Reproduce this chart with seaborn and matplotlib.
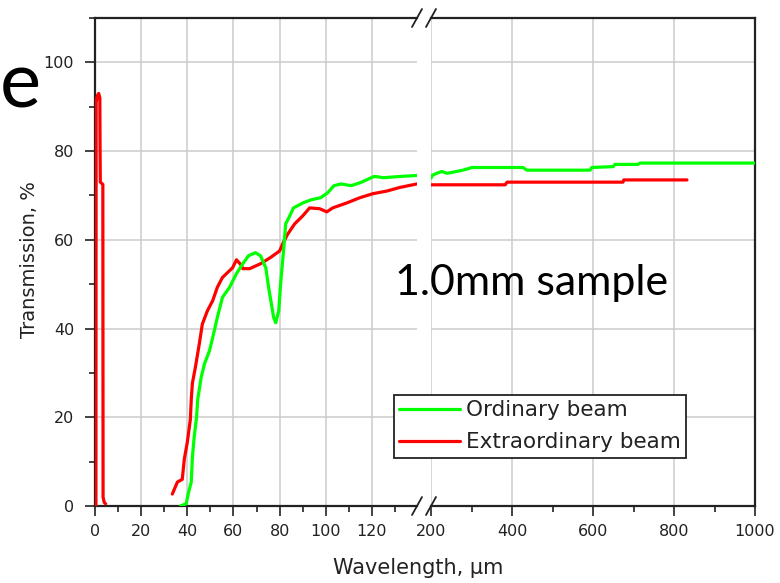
import numpy as np
import pandas as pd
import matplotlib.pyplot as plt
from matplotlib.lines import Line2D
from matplotlib.ticker import MultipleLocator
import seaborn as sns

# ── Data (wavelength um, transmission %) ─────────────────────────────────────
# narrow red peak close to 0 um
peak_x = [0.4, 0.5, 1.0, 1.6, 2.1, 2.2, 2.3, 3.4, 3.5, 4.0, 4.6]
peak_y = [0.0, 91.0, 92.5, 93.0, 92.0, 80.0, 73.0, 72.5, 2.0, 0.8, 0.5]

# left panel (0-140 um)
green_x = [37.0, 39.5, 40.5, 41.7, 42.2, 43.0, 44.0, 44.5, 46.0, 47.4, 49.6,
           51.0, 53.0, 55.2, 58.3, 61.3, 64.0, 66.5, 69.5, 71.7, 74.0, 75.2,
           77.4, 78.3, 79.6, 80.4, 81.7, 82.6, 84.0, 86.0, 90.0, 93.5, 97.8,
           100.8, 103.5, 106.5, 111.0, 115.0, 121.0, 125.0, 132.6, 139.5]
green_y = [0.0, 0.5, 3.0, 5.4, 11.0, 15.7, 20.0, 24.0, 29.0, 32.0, 35.0,
           38.0, 42.5, 47.0, 49.3, 52.4, 54.6, 56.4, 57.1, 56.4, 53.7, 49.3,
           42.5, 41.3, 44.0, 50.0, 57.6, 63.6, 65.0, 67.2, 68.3, 69.0, 69.5,
           70.6, 72.2, 72.6, 72.2, 72.9, 74.3, 74.0, 74.3, 74.5]

red_x = [33.5, 35.7, 37.8, 38.7, 40.0, 41.3, 41.7, 42.2, 43.5, 45.2, 46.5,
         48.7, 51.0, 53.0, 55.2, 57.4, 59.6, 61.3, 63.5, 64.0, 67.0, 71.7,
         76.0, 80.0, 81.3, 83.5, 86.5, 90.0, 93.0, 97.4, 100.4, 103.0, 109.0,
         114.8, 120.4, 126.5, 132.0, 139.5]
red_y = [2.7, 5.4, 6.0, 10.6, 14.4, 19.5, 24.0, 27.7, 31.3, 36.6, 41.0,
         44.0, 46.3, 49.3, 51.5, 52.6, 53.7, 55.5, 54.2, 53.5, 53.5, 54.6,
         56.0, 57.5, 59.1, 61.3, 63.6, 65.4, 67.2, 67.0, 66.3, 67.2, 68.3,
         69.5, 70.4, 71.0, 71.8, 72.6]

# right panel (200-1000 um)
green_far_x = [200, 203, 214, 227, 239, 252, 279, 301, 321, 370, 427, 437,
               526, 593, 597, 650, 654, 711, 716, 1000]
green_far_y = [73.9, 74.5, 75.0, 75.4, 75.0, 75.2, 75.7, 76.3, 76.3, 76.3,
               76.3, 75.7, 75.7, 75.7, 76.3, 76.5, 77.0, 77.0, 77.3, 77.3]

red_far_x = [200, 383, 388, 674, 676, 832]
red_far_y = [72.4, 72.4, 73.0, 73.0, 73.5, 73.5]

ORD, EXT = "Ordinary beam", "Extraordinary beam"
PALETTE = {ORD: "#00ff00", EXT: "#ff0000"}


def segment(x, y, beam, seg):
    return pd.DataFrame({"wl": x, "T": y, "beam": beam, "seg": seg})


left_df = pd.concat([segment(peak_x, peak_y, EXT, "peak"),
                     segment(red_x, red_y, EXT, "red"),
                     segment(green_x, green_y, ORD, "green")], ignore_index=True)
right_df = pd.concat([segment(red_far_x, red_far_y, EXT, "red"),
                      segment(green_far_x, green_far_y, ORD, "green")], ignore_index=True)

# ── Figure ───────────────────────────────────────────────────────────────────
sns.set_style("white")
plt.rcParams["font.family"] = ["DejaVu Sans"]

W, H = 780, 583
fig = plt.figure(figsize=(W / 100, H / 100), dpi=100)

def px_box(x0, y0, x1, y1):
    return [x0 / W, 1 - y1 / H, (x1 - x0) / W, (y1 - y0) / H]

ax1 = fig.add_axes(px_box(95, 18, 417, 506))
ax2 = fig.add_axes(px_box(431, 18, 755, 506), sharey=ax1)

for ax, df in [(ax1, left_df), (ax2, right_df)]:
    sns.lineplot(data=df, x="wl", y="T", hue="beam", units="seg",
                 estimator=None, sort=False, palette=PALETTE,
                 linewidth=2.3, legend=False, ax=ax, zorder=3)
    ax.grid(True, which="major", color="#cccccc", linewidth=1.1)
    ax.set_axisbelow(True)
    ax.set_xlabel("")
    ax.set_ylabel("")
    for s in ax.spines.values():
        s.set_color("#222222")
        s.set_linewidth(1.6)
    ax.tick_params(axis="both", which="major", length=7, width=1.2,
                   color="#222222", labelsize=11.5, labelcolor="#222222")
    ax.tick_params(axis="both", which="minor", length=4, width=1.2,
                   color="#222222")
    ax.tick_params(axis="x", which="both", bottom=True, direction="out", pad=6)

ax1.set_xlim(0, 139.5)
ax1.set_ylim(0, 110)
ax1.xaxis.set_major_locator(MultipleLocator(20))
ax1.xaxis.set_minor_locator(MultipleLocator(10))
ax1.yaxis.set_major_locator(MultipleLocator(20))
ax1.yaxis.set_minor_locator(MultipleLocator(10))
ax1.set_yticks([0, 20, 40, 60, 80, 100])
ax1.tick_params(axis="y", which="both", left=True, direction="out", pad=8)
ax1.spines["right"].set_visible(False)

ax2.set_xlim(200, 1000)
ax2.xaxis.set_major_locator(MultipleLocator(200))
ax2.xaxis.set_minor_locator(MultipleLocator(100))
ax2.tick_params(axis="y", which="both", left=False, labelleft=False)
ax2.spines["left"].set_visible(False)

# axis break marks
for cx in (417, 431):
    for cy in (18, 506):
        fig.add_artist(Line2D([(cx - 5) / W, (cx + 5) / W],
                              [1 - (cy + 9) / H, 1 - (cy - 9) / H],
                              transform=fig.transFigure, color="#222222",
                              lw=1.3))

fig.text(30 / W, 1 - 260 / H, "Transmission, %", rotation=90,
         ha="center", va="center", fontsize=14, color="#222222")
fig.text(418 / W, 1 - 568 / H, "Wavelength, \u00b5m",
         ha="center", va="center", fontsize=15, color="#222222")

fig.text(395 / W, 1 - 295 / H, "1.0mm sample", family=["Lato", "DejaVu Sans"],
         fontsize=31, ha="left", va="baseline", color="black")
# fragment of slide text at the top-left corner
fig.text(0 / W, 1 - 107 / H, "e", family=["Lato", "DejaVu Sans"],
         fontsize=56, ha="left", va="baseline", color="black")

handles = [Line2D([], [], color=PALETTE[ORD], lw=2.3),
           Line2D([], [], color=PALETTE[EXT], lw=2.3)]
leg = fig.legend(handles, [ORD, EXT], loc="upper left",
                 bbox_to_anchor=(394 / W, 1 - 395 / H), borderaxespad=0,
                 fancybox=False, framealpha=1, edgecolor="#222222",
                 fontsize=15.5, handlelength=2.8, handletextpad=0.3,
                 labelspacing=0.55, borderpad=0.25)
leg.get_frame().set_linewidth(1.3)
for t in leg.get_texts():
    t.set_color("#222222")

fig.savefig("out.png", dpi=100)
